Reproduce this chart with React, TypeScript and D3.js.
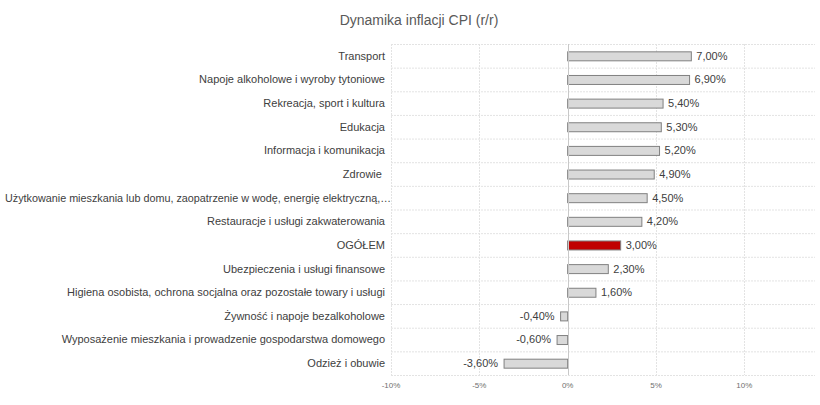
import { useEffect, useRef } from 'react';
import * as d3 from 'd3';

const categories = [
  'Transport',
  'Napoje alkoholowe i wyroby tytoniowe',
  'Rekreacja, sport i kultura',
  'Edukacja',
  'Informacja i komunikacja',
  'Zdrowie ',
  'Użytkowanie mieszkania lub domu, zaopatrzenie w wodę, energię elektryczną,…',
  'Restauracje i usługi zakwaterowania',
  'OGÓŁEM',
  'Ubezpieczenia i usługi finansowe',
  'Higiena osobista, ochrona socjalna oraz pozostałe towary i usługi',
  'Żywność i napoje bezalkoholowe',
  'Wyposażenie mieszkania i prowadzenie gospodarstwa domowego',
  'Odzież i obuwie',
];

const values = [7.0, 6.9, 5.4, 5.3, 5.2, 4.9, 4.5, 4.2, 3.0, 2.3, 1.6, -0.4, -0.6, -3.6];

const ticks = [-10, -5, 0, 5, 10];

const highlight = 'OGÓŁEM';

const width = 820;
const height = 405;

export default function App() {
  const ref = useRef<SVGSVGElement | null>(null);

  useEffect(() => {
    if (!ref.current) return;
    const svg = d3.select(ref.current);
    svg.selectAll('*').remove();

    const font = '"Liberation Sans", Arial, sans-serif';
    const left = 391;
    const right = 815;
    const top = 44;
    const bottom = 375;

    const x = d3.scaleLinear().domain([-10, 14]).range([left, right]);
    const y = d3
      .scaleBand()
      .domain(categories)
      .range([top, bottom])
      .paddingInner(0.62)
      .paddingOuter(0.31);

    const step = y.step();
    // zwykły minus zamiast U+2212, przecinek dziesiętny
    const fmt = (v: number) =>
      d3.format('.2f')(v).replace('\u2212', '-').replace('.', ',') + '%';

    // tytuł
    svg
      .append('text')
      .attr('x', 419)
      .attr('y', 25)
      .attr('text-anchor', 'middle')
      .attr('font-family', font)
      .attr('font-size', 14)
      .attr('fill', '#595959')
      .text('Dynamika inflacji CPI (r/r)');

    const grid = svg.append('g');

    // linie poziome na granicach kategorii
    grid
      .selectAll('line.h')
      .data(d3.range(categories.length + 1))
      .enter()
      .append('line')
      .attr('x1', left)
      .attr('x2', right)
      .attr('y1', (i) => top + i * step + 0.5)
      .attr('y2', (i) => top + i * step + 0.5)
      .attr('stroke', '#e3e3e3')
      .attr('stroke-dasharray', '2,1');

    // linie pionowe
    grid
      .selectAll('line.v')
      .data(ticks.filter((t) => t !== 0))
      .enter()
      .append('line')
      .attr('x1', (d) => Math.round(x(d)) + 0.5)
      .attr('x2', (d) => Math.round(x(d)) + 0.5)
      .attr('y1', top)
      .attr('y2', bottom)
      .attr('stroke', '#e3e3e3')
      .attr('stroke-dasharray', '2,1');

    const rows = categories.map((c, i) => ({ c, v: values[i] }));

    svg
      .append('g')
      .selectAll('rect')
      .data(rows)
      .enter()
      .append('rect')
      .attr('x', (d) => x(Math.min(0, d.v)))
      .attr('y', (d) => y(d.c)! + 0.5)
      .attr('width', (d) => Math.abs(x(d.v) - x(0)))
      .attr('height', y.bandwidth())
      .attr('fill', (d) => (d.c === highlight ? '#c00000' : '#d9d9d9'))
      .attr('stroke', '#808080')
      .attr('stroke-width', 1);

    // oś zero
    svg
      .append('line')
      .attr('x1', Math.round(x(0)) + 0.5)
      .attr('x2', Math.round(x(0)) + 0.5)
      .attr('y1', top)
      .attr('y2', bottom)
      .attr('stroke', '#c8c8c8');

    // etykiety wartości
    svg
      .append('g')
      .selectAll('text')
      .data(rows)
      .enter()
      .append('text')
      .attr('x', (d) => (d.v >= 0 ? x(d.v) + 5 : x(d.v) - 6))
      .attr('y', (d) => y(d.c)! + y.bandwidth() / 2)
      .attr('dy', '0.36em')
      .attr('text-anchor', (d) => (d.v >= 0 ? 'start' : 'end'))
      .attr('font-family', font)
      .attr('font-size', 11)
      .attr('fill', '#404040')
      .text((d) => fmt(d.v));

    // etykiety kategorii; za długa etykieta ściśnięta do szerokości 5..391
    const labels = svg
      .append('g')
      .selectAll('text')
      .data(categories)
      .enter()
      .append('text')
      .attr('x', 385)
      .attr('y', (d) => y(d)! + y.bandwidth() / 2)
      .attr('dy', '0.36em')
      .attr('text-anchor', 'end')
      .attr('font-family', font)
      .attr('font-size', 11)
      .attr('fill', '#404040')
      .style('white-space', 'pre')
      .text((d) => d);

    labels.each(function () {
      const node = this as SVGTextElement;
      const w = node.getComputedTextLength();
      if (w > 380) {
        d3.select(node)
          .attr('x', 391)
          .attr('textLength', 386)
          .attr('lengthAdjust', 'spacingAndGlyphs');
      }
    });

    // etykiety osi X
    svg
      .append('g')
      .selectAll('text')
      .data(ticks)
      .enter()
      .append('text')
      .attr('x', (d) => x(d))
      .attr('y', 388)
      .attr('text-anchor', 'middle')
      .attr('font-family', font)
      .attr('font-size', 8)
      .attr('fill', '#6f6f6f')
      .text((d) => `${d}%`);
  }, []);

  return (
    <svg
      ref={ref}
      width={width}
      height={height}
      style={{ position: 'absolute', left: 0, top: 0, background: '#fff' }}
    />
  );
}
